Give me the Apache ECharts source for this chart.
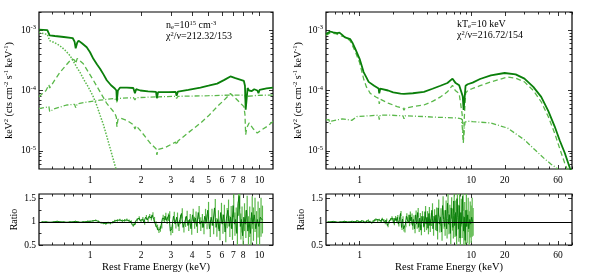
<!DOCTYPE html>
<html>
<head>
<meta charset="utf-8">
<script src="https://cdn.jsdelivr.net/npm/echarts@6.0.0/dist/echarts.min.js"></script>
<style>
  html, body { margin: 0; padding: 0; background: #fff; }
  #chart { width: 591px; height: 275px; }
</style>
</head>
<body>
<div id="chart"></div>
<script>
// model components, [energy (keV), keV^2 flux]
var leftTotal = [[0.50,1.02e-3],[0.56,1.0e-3],[0.572,9.8e-4],[0.578,8.2e-4],[0.62,8.0e-4],[0.70,7.7e-4],[0.79,7.4e-4],[0.81,6.5e-4],[0.823,5.0e-4],[0.84,6.2e-4],[0.855,6.7e-4],[0.90,6.0e-4],[0.956,5.2e-4],[1.0,4.3e-4],[1.046,3.35e-4],[1.10,2.7e-4],[1.146,2.3e-4],[1.20,1.85e-4],[1.255,1.48e-4],[1.33,1.22e-4],[1.40,1.08e-4],[1.43,1.0e-4],[1.44,6.8e-5],[1.46,1.0e-4],[1.505,1.12e-4],[1.65,1.12e-4],[1.80,1.1e-4],[1.84,9.0e-5],[1.87,1.05e-4],[1.98,1.0e-4],[2.2,9.7e-5],[2.45,9.5e-5],[2.48,7.5e-5],[2.52,9.4e-5],[2.9,9.4e-5],[3.2,9.5e-5],[3.24,8.2e-5],[3.3,9.6e-5],[3.8,1.02e-4],[4.48,1.12e-4],[5.0,1.2e-4],[5.62,1.3e-4],[6.2,1.5e-4],[6.73,1.71e-4],[7.2,1.6e-4],[8.08,1.44e-4],[8.2,1.2e-4],[8.28,4.8e-5],[8.4,7.5e-5],[8.5,1.1e-4],[8.67,1.0e-4],[9.0,9.8e-5],[9.3,1.05e-4],[9.7,1.0e-4],[9.85,9.0e-5],[10.0,1.02e-4],[11.0,1.08e-4],[12.0,1.12e-4]];
var leftDotted = [[0.50,9.1e-4],[0.56,8.5e-4],[0.572,8.3e-4],[0.578,6.7e-4],[0.62,6.2e-4],[0.665,5.5e-4],[0.71,4.7e-4],[0.761,3.8e-4],[0.80,3.0e-4],[0.834,2.44e-4],[0.873,2.0e-4],[0.913,1.57e-4],[0.98,1.12e-4],[1.046,7.85e-5],[1.10,5.5e-5],[1.146,3.9e-5],[1.20,2.7e-5],[1.255,1.74e-5],[1.33,9.8e-6],[1.406,5.6e-6],[1.43,4.8e-6]];
var leftDashed = [[0.50,7.9e-5],[0.55,1.0e-4],[0.572,1.25e-4],[0.578,1.1e-4],[0.62,1.5e-4],[0.665,2.0e-4],[0.72,2.6e-4],[0.779,3.35e-4],[0.81,3.2e-4],[0.823,2.8e-4],[0.84,3.4e-4],[0.855,3.6e-4],[0.913,2.77e-4],[0.98,2.0e-4],[1.046,1.48e-4],[1.146,9.5e-5],[1.255,6.1e-5],[1.40,4.2e-5],[1.43,3.6e-5],[1.44,2.5e-5],[1.46,3.3e-5],[1.505,3.5e-5],[1.65,3.2e-5],[1.804,2.7e-5],[1.84,2.3e-5],[1.87,2.6e-5],[2.0,2.1e-5],[2.26,1.35e-5],[2.45,1.08e-5],[2.48,8.6e-6],[2.52,1.05e-5],[2.8,1.15e-5],[3.2,1.4e-5],[3.24,1.25e-5],[3.3,1.45e-5],[3.8,2.0e-5],[4.48,2.88e-5],[5.0,3.8e-5],[5.62,5.4e-5],[6.2,7.0e-5],[6.73,8.9e-5],[7.2,7.5e-5],[8.08,5.4e-5],[8.2,4.0e-5],[8.28,1.85e-5],[8.4,2.4e-5],[8.67,2.9e-5],[9.2,2.3e-5],[9.69,1.97e-5],[10.2,2.2e-5],[11.1,2.55e-5],[12.0,3.05e-5]];
var leftDashDot = [[0.50,5.0e-5],[0.572,5.4e-5],[0.578,4.5e-5],[0.62,5.0e-5],[0.728,5.75e-5],[0.81,5.9e-5],[0.823,5.2e-5],[0.84,6.0e-5],[0.95,6.4e-5],[1.146,6.9e-5],[1.40,7.4e-5],[1.44,6.4e-5],[1.46,7.4e-5],[1.804,7.6e-5],[1.84,7.0e-5],[1.87,7.6e-5],[2.48,7.85e-5],[2.5,7.2e-5],[2.52,7.85e-5],[3.2,8.0e-5],[3.24,7.4e-5],[3.3,8.0e-5],[5.0,8.2e-5],[6.73,8.4e-5],[8.2,8.4e-5],[8.28,7.0e-5],[8.4,8.0e-5],[9.7,8.3e-5],[12.0,8.4e-5]];

var rightTotal = [[0.50,8.6e-4],[0.545,9.5e-4],[0.58,9.2e-4],[0.60,9.4e-4],[0.63,8.9e-4],[0.66,9.1e-4],[0.69,8.5e-4],[0.718,8.6e-4],[0.74,7.6e-4],[0.76,8.2e-4],[0.825,7.1e-4],[0.87,6.0e-4],[0.915,4.9e-4],[1.0,3.35e-4],[1.086,2.02e-4],[1.15,1.65e-4],[1.205,1.39e-4],[1.35,1.2e-4],[1.48,1.08e-4],[1.50,9.0e-5],[1.53,1.07e-4],[1.8,1.0e-4],[2.0,9.3e-5],[2.33,8.9e-5],[2.5,8.8e-5],[3.0,9.0e-5],[3.77,9.5e-5],[4.5,1.07e-4],[5.3,1.2e-4],[6.12,1.33e-4],[6.8,1.57e-4],[7.2,1.35e-4],[7.8,1.22e-4],[8.1,1.2e-4],[8.4,8.0e-5],[8.55,4.75e-5],[8.7,7.0e-5],[8.9,1.2e-4],[9.3,1.27e-4],[9.6,1.2e-4],[10.3,1.35e-4],[12.0,1.55e-4],[15.0,1.78e-4],[19.9,1.95e-4],[25.0,1.85e-4],[30.0,1.57e-4],[36.0,1.15e-4],[42.4,7.85e-5],[49.0,4.6e-5],[55.9,2.55e-5],[62.0,1.5e-5],[68.8,9.3e-6],[76.3,5.3e-6],[80.0,4.3e-6]];
var rightDashed = [[0.50,8.2e-4],[0.545,9.0e-4],[0.60,8.8e-4],[0.69,8.0e-4],[0.76,7.6e-4],[0.825,6.6e-4],[0.915,4.4e-4],[1.0,2.9e-4],[1.086,1.57e-4],[1.15,1.15e-4],[1.25,8.9e-5],[1.40,7.8e-5],[1.48,7.4e-5],[1.50,6.0e-5],[1.53,7.2e-5],[1.8,6.2e-5],[2.17,5.4e-5],[2.45,5.1e-5],[2.5,4.7e-5],[2.55,5.1e-5],[3.0,5.4e-5],[3.77,5.75e-5],[4.5,6.6e-5],[5.32,7.85e-5],[6.12,9.5e-5],[6.8,1.22e-4],[7.2,1.0e-4],[7.8,8.9e-5],[8.1,8.5e-5],[8.3,4.0e-5],[8.5,1.35e-5],[8.7,4.0e-5],[8.9,9.0e-5],[9.3,1.0e-4],[10.3,1.08e-4],[12.0,1.2e-4],[15.0,1.39e-4],[21.2,1.67e-4],[25.0,1.6e-4],[30.0,1.39e-4],[36.0,1.0e-4],[42.4,6.5e-5],[49.0,3.7e-5],[55.9,1.97e-5],[62.0,1.1e-5],[68.8,6.3e-6],[74.0,4.5e-6]];
var rightDashDot = [[0.50,3.26e-5],[0.53,3.3e-5],[0.545,2.8e-5],[0.56,3.1e-5],[0.70,3.4e-5],[0.85,3.2e-5],[0.947,3.7e-5],[1.2,3.8e-5],[1.48,3.9e-5],[1.50,3.3e-5],[1.53,3.9e-5],[1.89,3.9e-5],[2.45,3.8e-5],[2.5,3.4e-5],[2.55,3.8e-5],[3.77,3.7e-5],[5.0,3.6e-5],[7.54,3.5e-5],[8.2,3.4e-5],[8.5,1.5e-5],[8.8,3.0e-5],[9.3,3.1e-5],[10.3,3.05e-5],[15.0,2.9e-5],[21.2,2.38e-5],[30.0,1.52e-5],[37.0,1.05e-5],[45.0,7.5e-6],[52.0,6.0e-6],[60.0,5.0e-6]];

// data/model ratio, same binning in both fits
var ratioEnergy = [0.52,0.55,0.58,0.61,0.64,0.67,0.70,0.73,0.76,0.79,0.82,0.85,0.88,0.91,0.94,0.97,
  1.00,1.04,1.08,1.12,1.16,1.20,1.24,1.28,1.32,1.36,1.40,1.45,1.50,1.55,1.60,1.65,1.70,1.75,1.80,1.85,1.90,1.95,
  2.00,2.05,2.10,2.15,2.20,2.25,2.30,2.35,2.40,2.45,2.50,2.55,2.60,2.65,2.70,2.75,2.80,2.85,2.90,2.95,
  3.0,3.07,3.14,3.21,3.28,3.35,3.42,3.5,3.58,3.66,3.74,3.82,3.9,3.98,4.06,4.14,4.22,4.3,4.4,4.5,4.6,4.7,4.8,4.9,
  5.0,5.12,5.24,5.36,5.48,5.6,5.72,5.84,5.96,6.08,6.2,6.32,6.44,6.56,6.68,6.8,6.92,7.04,7.16,7.28,7.4,7.52,7.64,7.76,7.88,8.0,8.15,8.3,8.45,8.6,8.75,8.9,9.05,9.2,9.4,9.6,9.8,10.0,10.2,10.4];
var leftRatio = [1.00,1.00,0.99,1.00,1.01,1.00,1.00,0.99,1.00,1.00,1.01,1.00,0.99,1.00,1.00,1.01,
  1.01,1.02,1.03,1.01,0.98,0.97,0.96,0.98,0.97,0.99,1.02,1.03,1.04,1.02,1.03,1.04,1.02,1.00,0.93,0.97,1.04,1.08,
  1.02,1.06,0.98,1.10,1.04,1.12,1.08,1.15,1.05,0.95,0.88,0.82,0.85,0.92,1.08,1.05,1.12,1.03,1.10,1.15,
  0.80,0.85,1.12,0.95,1.10,0.90,1.05,1.18,0.88,1.00,1.12,0.92,1.05,0.85,1.15,0.98,1.08,0.90,1.20,0.95,1.02,0.88,1.12,1.00,
  1.25,0.85,1.10,0.92,1.30,0.88,1.05,0.80,1.20,0.95,1.15,0.78,1.08,1.25,0.90,1.10,0.85,1.35,0.95,1.05,0.75,1.40,1.55,0.90,1.05,0.70,1.10,0.95,1.25,0.80,1.00,0.75,1.20,0.95,1.15,0.85,1.05,0.90,1.10,1.05];
var rightRatio = [1.00,1.00,1.01,1.00,0.99,1.00,1.00,1.01,1.00,0.99,1.00,1.01,1.00,1.00,1.02,1.01,
  1.00,1.02,1.01,0.99,1.02,1.03,1.00,0.98,1.01,1.03,1.05,1.02,1.04,1.01,1.06,1.03,0.98,1.04,0.92,1.00,1.05,1.08,
  1.04,0.97,1.08,1.02,1.10,0.95,1.05,1.18,0.88,1.06,0.85,0.83,0.95,1.12,1.04,1.08,0.98,1.15,1.02,1.10,
  0.92,1.05,0.85,1.15,0.95,1.20,0.88,1.08,0.82,1.12,1.00,0.90,1.22,0.95,1.10,0.86,1.18,0.92,1.05,1.25,0.85,1.12,0.98,1.15,
  0.80,1.30,0.95,1.10,0.78,1.35,1.05,0.90,1.25,0.85,1.40,0.95,1.15,0.75,1.30,1.05,0.88,1.45,0.92,1.20,0.70,1.50,1.10,0.85,1.35,0.65,1.20,0.95,1.55,0.80,1.10,0.60,1.25,0.90,1.15,0.85,1.05,0.95,1.10,1.00];
var ratioError = [0.010,0.010,0.010,0.010,0.012,0.012,0.012,0.012,0.012,0.012,0.014,0.014,0.014,0.015,0.015,0.016,
  0.018,0.018,0.020,0.020,0.020,0.022,0.022,0.022,0.025,0.025,0.025,0.028,0.028,0.030,0.030,0.030,0.032,0.032,0.035,0.035,0.035,0.040,
  0.040,0.042,0.045,0.045,0.048,0.050,0.050,0.055,0.055,0.060,0.060,0.062,0.065,0.065,0.070,0.070,0.075,0.075,0.080,0.080,
  0.090,0.090,0.095,0.095,0.10,0.10,0.10,0.11,0.11,0.11,0.12,0.12,0.12,0.13,0.13,0.13,0.14,0.14,0.14,0.15,0.15,0.15,0.16,0.16,
  0.18,0.18,0.18,0.19,0.19,0.20,0.20,0.20,0.21,0.21,0.22,0.22,0.22,0.23,0.23,0.24,0.24,0.25,0.25,0.26,0.26,0.27,0.27,0.28,0.28,0.29,0.30,0.30,0.31,0.32,0.33,0.34,0.35,0.36,0.37,0.38,0.39,0.40,0.42,0.30];

// axis ranges and ticks
var leftRange = [0.5, 12];
var rightRange = [0.5, 80];
var leftLabels = [1, 2, 3, 4, 5, 6, 7, 8, 10];
var leftMinor = [0.6, 0.7, 0.8, 0.9, 9];
var rightLabels = [1, 10, 20, 60];
var rightMinor = [0.6, 0.7, 0.8, 0.9, 2, 3, 4, 5, 6, 7, 8, 9, 30, 40, 50, 70, 80];
var fluxRange = [5e-6, 2e-3];
var fluxMajor = [1e-5, 1e-4, 1e-3];
var fluxMinor = [6e-6, 7e-6, 8e-6, 9e-6, 2e-5, 3e-5, 4e-5, 5e-5, 6e-5, 7e-5, 8e-5, 9e-5, 2e-4, 3e-4, 4e-4, 5e-4, 6e-4, 7e-4, 8e-4, 9e-4, 2e-3];
var ratioRange = [0.5, 1.6];
var ratioMajor = [0.5, 1, 1.5];
var ratioMinor = [0.75, 1.25];

var SERIF = '"Liberation Serif", "DejaVu Serif", serif';
var DARK = '#0a7f0a', LIGHT = '#5ab84a';
var RICH = {
    s: { fontSize: 6.5, lineHeight: 7, verticalAlign: 'top', fontFamily: SERIF, color: '#000', fill: '#000' },
    d: { fontSize: 6.5, lineHeight: 5, verticalAlign: 'bottom', fontFamily: SERIF, color: '#000', fill: '#000' }
};

var grids = [], xAxes = [], yAxes = [], series = [];

function fmtEnergy(v) { return String(Math.round(Math.pow(10, v) * 10) / 10); }
function fmtPow(v) { return '10{s|' + Math.round(v) + '}'; }
function fmtRatio(v) { return String(v); }

function gridBox(left, top, width, height) {
    return { left: left, top: top, width: width, height: height, show: true,
        borderColor: '#000', borderWidth: 1.2, backgroundColor: 'rgba(0,0,0,0)',
        containLabel: false, outerBoundsMode: 'none' };
}

// tick/label-only axis laid over the data axis
function makeAxis(grid, pos, range, isLog, ticks, len, labels, fmt, margin) {
    var f = isLog ? function (v) { return Math.log10(v); } : function (v) { return v; };
    var ax = {
        type: 'value', gridIndex: grid, position: pos,
        min: f(range[0]), max: f(range[1]),
        axisLine: { show: false, onZero: false },
        splitLine: { show: false },
        axisTick: { show: true, inside: true, length: len,
            lineStyle: { color: '#000', width: 0.8 }, customValues: ticks.map(f) },
        axisLabel: { show: false }
    };
    if (labels) {
        ax.axisLabel = { show: true, customValues: labels.map(f), formatter: fmt, margin: margin,
            color: '#000', fontFamily: SERIF, fontSize: 9.5, lineHeight: 12, rich: RICH };
    }
    return ax;
}

function addX(grid, range, labels, minor, name) {
    var idx = xAxes.length;
    xAxes.push({ type: 'log', gridIndex: grid, min: range[0], max: range[1], show: false,
        axisLine: { onZero: false } });
    var bottom = makeAxis(grid, 'bottom', range, true, labels, 4, labels, fmtEnergy, name ? 4 : 5);
    if (name) {
        bottom.name = name;
        bottom.nameLocation = 'middle';
        bottom.nameGap = 16;
        bottom.nameTextStyle = { fontFamily: SERIF, fontSize: 10.5, color: '#000' };
    }
    xAxes.push(bottom);
    xAxes.push(makeAxis(grid, 'bottom', range, true, minor, 2.5));
    xAxes.push(makeAxis(grid, 'top', range, true, labels, 4));
    xAxes.push(makeAxis(grid, 'top', range, true, minor, 2.5));
    return idx;
}

function addY(grid, range, isLog, major, minor, fmt, name, gap) {
    var idx = yAxes.length;
    yAxes.push({ type: isLog ? 'log' : 'value', gridIndex: grid, min: range[0], max: range[1], show: false,
        axisLine: { onZero: false } });
    var left = makeAxis(grid, 'left', range, isLog, major, 4, major, fmt, 3);
    left.name = name;
    left.nameLocation = 'middle';
    left.nameRotate = 90;
    left.nameGap = gap;
    left.nameTextStyle = { fontFamily: SERIF, fontSize: 10, color: '#000', lineHeight: 12, rich: RICH };
    yAxes.push(left);
    yAxes.push(makeAxis(grid, 'left', range, isLog, minor, 2.5));
    yAxes.push(makeAxis(grid, 'right', range, isLog, major, 4));
    yAxes.push(makeAxis(grid, 'right', range, isLog, minor, 2.5));
    return idx;
}

function curve(xi, yi, data, color, width, type, z) {
    return { type: 'line', xAxisIndex: xi, yAxisIndex: yi, data: data, symbol: 'none',
        showSymbol: false, silent: true, z: z,
        lineStyle: { color: color, width: width, type: type } };
}

function addPanel(left, width, range, labels, minor, curves, ratio, yGap, rGap) {
    var gT = grids.length;
    grids.push(gridBox(left, 12, width, 157));
    var gR = grids.length;
    grids.push(gridBox(left, 194, width, 51));

    var xT = addX(gT, range, labels, minor);
    var yT = addY(gT, fluxRange, true, fluxMajor, fluxMinor, fmtPow,
        'keV{s|2} (cts cm{s|-2} s{s|-1} keV{s|-1})', yGap);
    curves.forEach(function (c) {
        series.push(curve(xT, yT, c[0], c[1], c[2], c[3], c[4]));
    });

    var xR = addX(gR, range, labels, minor, 'Rest Frame Energy (keV)');
    var yR = addY(gR, ratioRange, false, ratioMajor, ratioMinor, fmtRatio, 'Ratio', rGap);
    series.push({
        type: 'custom', xAxisIndex: xR, yAxisIndex: yR, silent: true, clip: true, z: 2,
        data: ratioEnergy.map(function (e, i) { return [e, ratio[i] - ratioError[i], ratio[i] + ratioError[i]]; }),
        renderItem: function (params, api) {
            var p1 = api.coord([api.value(0), api.value(1)]);
            var p2 = api.coord([api.value(0), api.value(2)]);
            return { type: 'line', shape: { x1: p1[0], y1: p1[1], x2: p2[0], y2: p2[1] },
                style: { stroke: LIGHT, lineWidth: 1.2 } };
        }
    });
    series.push({
        type: 'line', xAxisIndex: xR, yAxisIndex: yR, step: 'middle', symbol: 'none', silent: true, z: 3,
        data: ratioEnergy.map(function (e, i) { return [e, ratio[i]]; }),
        lineStyle: { color: DARK, width: 1 },
        markLine: { silent: true, symbol: 'none', label: { show: false }, z: 6,
            lineStyle: { color: '#000', type: 'solid', width: 1.2 }, data: [{ yAxis: 1 }] }
    });
}

window.onload = function () {
    var myChart = echarts.init(document.getElementById('chart'));

    addPanel(39, 234, leftRange, leftLabels, leftMinor, [
        [leftDashDot, LIGHT, 1.3, [5, 2, 1, 2], 3],
        [leftDashed, LIGHT, 1.3, [5, 3], 3],
        [leftDotted, LIGHT, 1.5, [1.5, 1.5], 3],
        [leftTotal, DARK, 1.8, 'solid', 4]
    ], leftRatio, 24, 19);

    addPanel(326, 246, rightRange, rightLabels, rightMinor, [
        [rightDashDot, LIGHT, 1.3, [5, 2, 1, 2], 3],
        [rightDashed, LIGHT, 1.3, [5, 3], 3],
        [rightTotal, DARK, 1.8, 'solid', 4]
    ], rightRatio, 21, 19);

    var option = {
        animation: false,
        backgroundColor: '#fff',
        grid: grids,
        xAxis: xAxes,
        yAxis: yAxes,
        series: series,
        graphic: [
            { type: 'text', left: 166, top: 20,
              style: { text: 'n{d|e}=10{s|15} cm{s|-3}\nχ{s|2}/ν=212.32/153', fontFamily: SERIF,
                  fontSize: 10, lineHeight: 11, fill: '#000', rich: RICH } },
            { type: 'text', left: 457, top: 19,
              style: { text: 'kT{d|e}=10 keV\nχ{s|2}/ν=216.72/154', fontFamily: SERIF,
                  fontSize: 10, lineHeight: 11, fill: '#000', rich: RICH } }
        ]
    };

    myChart.setOption(option);
};
</script>
</body>
</html>
